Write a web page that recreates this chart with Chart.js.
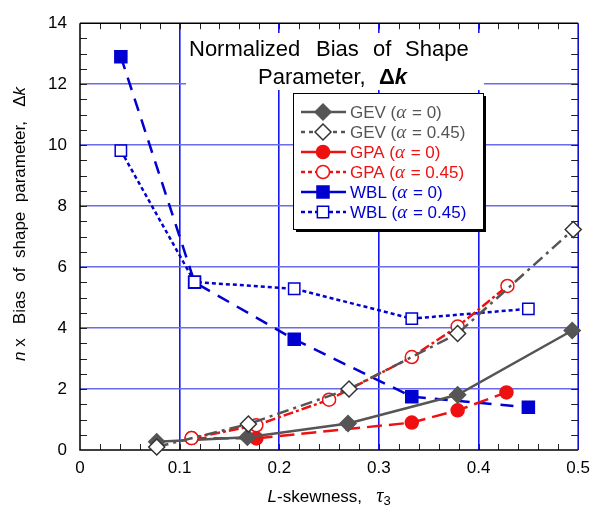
<!DOCTYPE html>
<html>
<head>
<meta charset="utf-8">
<script src="https://cdn.jsdelivr.net/npm/chart.js@4.4.0/dist/chart.umd.min.js"></script>
<style>
  html, body { margin: 0; padding: 0; background: #fff; }
</style>
</head>
<body>
<canvas id="chart" width="598" height="506"></canvas>
<script>
// Data (x = L-skewness, y = n x bias of k)
const gevA0X = [0.077, 0.168, 0.269, 0.379, 0.494];
const gevA0Y = [0.27, 0.42, 0.87, 1.81, 3.92];
const gevA45X = [0.077, 0.169, 0.270, 0.379, 0.495];
const gevA45Y = [0.10, 0.85, 2.00, 3.82, 7.23];
const gpaA0X = [0.112, 0.177, 0.333, 0.379, 0.428];
const gpaA0Y = [0.39, 0.38, 0.90, 1.30, 1.89];
const gpaA45X = [0.112, 0.177, 0.250, 0.333, 0.379, 0.429];
const gpaA45Y = [0.39, 0.81, 1.65, 3.05, 4.05, 5.38];
const wblA0X = [0.041, 0.115, 0.215, 0.333, 0.450];
const wblA0Y = [12.9, 5.50, 3.63, 1.75, 1.40];
const wblA45X = [0.041, 0.115, 0.215, 0.333, 0.450];
const wblA45Y = [9.82, 5.51, 5.29, 4.31, 4.63];

const xTicks = [0, 0.1, 0.2, 0.3, 0.4, 0.5];
const yTicks = [0, 2, 4, 6, 8, 10, 12, 14];

const GRAY = '#555555';
const RED = '#ee1111';
const BLUE = '#0000d0';
const SANS = "'Liberation Sans', Arial, sans-serif";
const SERIF = "'Liberation Serif', 'Times New Roman', serif";

function pts(xs, ys) {
    return xs.map((x, i) => ({ x: x, y: ys[i] }));
}

// Legend entries (drawn by plugin inside the plot)
const legendItems = [
    { name: 'GEV', alpha: '0', color: GRAY, dash: [], style: 'rectRot', r: 8, fill: GRAY },
    { name: 'GEV', alpha: '0.45', color: GRAY, dash: [4, 4], style: 'rectRot', r: 8, fill: '#fff', border: '#333' },
    { name: 'GPA', alpha: '0', color: RED, dash: [], style: 'circle', r: 6.5, fill: RED },
    { name: 'GPA', alpha: '0.45', color: RED, dash: [4, 3], style: 'circle', r: 6.5, fill: '#fff' },
    { name: 'WBL', alpha: '0', color: BLUE, dash: [], style: 'rect', r: 8.5, fill: BLUE },
    { name: 'WBL', alpha: '0.45', color: BLUE, dash: [4, 3], style: 'rect', r: 8, fill: '#fff' },
];

function drawRich(ctx, parts, x, y) {
    let cx = x;
    parts.forEach(p => {
        ctx.font = p.font;
        ctx.fillStyle = p.color || '#000';
        ctx.fillText(p.text, cx, y + (p.dy || 0));
        cx += ctx.measureText(p.text).width + (p.gap || 0);
    });
    return cx - x;
}

function richWidth(ctx, parts) {
    let w = 0;
    parts.forEach(p => {
        ctx.font = p.font;
        w += ctx.measureText(p.text).width + (p.gap || 0);
    });
    return w;
}

const decorPlugin = {
    id: 'decor',
    beforeDatasetsDraw(chart) {
        const ctx = chart.ctx;
        const a = chart.chartArea;
        const xs = chart.scales.x;
        const ys = chart.scales.y;
        ctx.save();

        // minor ticks, inward on all four sides
        ctx.strokeStyle = '#222';
        ctx.lineWidth = 1;
        ctx.beginPath();
        for (let v = 0.02; v < 0.5; v += 0.02) {
            const px = Math.round(xs.getPixelForValue(v)) + 0.5;
            ctx.moveTo(px, a.bottom); ctx.lineTo(px, a.bottom - 6);
            ctx.moveTo(px, a.top); ctx.lineTo(px, a.top + 6);
        }
        for (let v = 0.5; v < 14; v += 0.5) {
            const py = Math.round(ys.getPixelForValue(v)) + 0.5;
            ctx.moveTo(a.left, py); ctx.lineTo(a.left + 7, py);
            ctx.moveTo(a.right, py); ctx.lineTo(a.right - 7, py);
        }
        ctx.stroke();

        // frame
        ctx.lineWidth = 1.5;
        ctx.strokeStyle = '#000';
        ctx.beginPath();
        ctx.moveTo(a.left, a.top); ctx.lineTo(a.left, a.bottom); ctx.lineTo(a.right, a.bottom);
        ctx.moveTo(a.left, a.top); ctx.lineTo(a.right, a.top);
        ctx.stroke();
        ctx.strokeStyle = BLUE;
        ctx.beginPath();
        ctx.moveTo(a.right, a.top); ctx.lineTo(a.right, a.bottom);
        ctx.stroke();

        // title block with white background
        ctx.fillStyle = '#fff';
        ctx.fillRect(186, 33, 298, 57);
        ctx.textBaseline = 'alphabetic';
        const tf = '22px ' + SANS;
        drawRich(ctx, [{ text: 'Normalized', font: tf }], 189, 56);
        drawRich(ctx, [{ text: 'Bias', font: tf }], 316, 56);
        drawRich(ctx, [{ text: 'of', font: tf }], 373, 56);
        drawRich(ctx, [{ text: 'Shape', font: tf }], 405, 56);
        drawRich(ctx, [{ text: 'Parameter,', font: tf }], 258, 84);
        drawRich(ctx, [
            { text: '\u0394', font: 'bold 22px ' + SANS },
            { text: 'k', font: 'italic bold 22px ' + SANS },
        ], 379, 84);

        // legend box with shadow
        const lx = 293, ly = 93, lw = 190, lh = 136;
        ctx.fillStyle = '#000';
        ctx.fillRect(lx + 3, ly + 3, lw, lh);
        ctx.fillStyle = '#fff';
        ctx.fillRect(lx, ly, lw, lh);
        ctx.lineWidth = 1;
        ctx.strokeStyle = '#000';
        ctx.strokeRect(lx + 0.5, ly + 0.5, lw, lh);

        legendItems.forEach((it, i) => {
            const y = 112 + i * 20;
            ctx.strokeStyle = it.color;
            ctx.lineWidth = 2.5;
            ctx.setLineDash(it.dash);
            ctx.beginPath();
            ctx.moveTo(301, y); ctx.lineTo(346, y);
            ctx.stroke();
            ctx.setLineDash([]);
            ctx.fillStyle = it.fill;
            ctx.strokeStyle = it.border || it.color;
            ctx.lineWidth = 1.5;
            Chart.helpers.drawPoint(ctx, { pointStyle: it.style, radius: it.r, rotation: 0, borderWidth: 1.5 }, 323, y);
            drawRich(ctx, [
                { text: it.name + ' (', font: '17px ' + SANS, color: it.color },
                { text: '\u03b1', font: 'italic 19px ' + SERIF, color: it.color, gap: 1 },
                { text: ' = ' + it.alpha + ')', font: '17px ' + SANS, color: it.color },
            ], 350, y + 6);
        });
        ctx.restore();
    },
    afterDraw(chart) {
        const ctx = chart.ctx;
        const a = chart.chartArea;
        ctx.save();
        ctx.textBaseline = 'alphabetic';
        // x axis title
        const xParts = [
            { text: 'L', font: 'italic 17px ' + SANS },
            { text: '-skewness,   ', font: '17px ' + SANS },
            { text: '\u03c4', font: 'italic 20px ' + SERIF },
            { text: '3', font: '13px ' + SANS, dy: 3 },
        ];
        const xw = richWidth(ctx, xParts);
        drawRich(ctx, xParts, (a.left + a.right) / 2 - xw / 2, 502);

        // y axis title, rotated
        const yParts = [
            { text: 'n', font: 'italic 17px ' + SANS },
            { text: ' x   Bias  of  shape  parameter,   \u0394', font: '17px ' + SANS },
            { text: 'k', font: 'italic 17px ' + SANS },
        ];
        const yw = richWidth(ctx, yParts);
        ctx.translate(25, 224);
        ctx.rotate(-Math.PI / 2);
        drawRich(ctx, yParts, -yw / 2, 0);
        ctx.restore();
    }
};

function series(xs, ys, color, dash, style, r, fill, order, border) {
    return {
        data: pts(xs, ys),
        showLine: true,
        borderColor: color,
        borderWidth: 2.5,
        borderDash: dash,
        pointStyle: style,
        pointRadius: r,
        pointHoverRadius: r,
        pointBackgroundColor: fill,
        pointBorderColor: border || color,
        pointBorderWidth: 1.5,
        order: order,
        clip: 10,
    };
}

new Chart(document.getElementById('chart'), {
    type: 'scatter',
    data: {
        datasets: [
            series(gevA0X, gevA0Y, GRAY, [], 'rectRot', 8, GRAY, 3),
            series(gevA45X, gevA45Y, GRAY, [12, 5, 3, 5], 'rectRot', 8, '#fff', 0, '#333'),
            series(gpaA0X, gpaA0Y, RED, [15, 7], 'circle', 6.5, RED, 4),
            series(gpaA45X, gpaA45Y, RED, [10, 3, 3, 3], 'circle', 6.5, '#fff', 1),
            series(wblA0X, wblA0Y, BLUE, [13, 9], 'rect', 8.5, BLUE, 5),
            series(wblA45X, wblA45Y, BLUE, [4, 3], 'rect', 8, '#fff', 2),
        ]
    },
    options: {
        responsive: false,
        animation: false,
        layout: { padding: { top: 18, right: 12, left: 0, bottom: 0 } },
        plugins: {
            legend: { display: false },
            tooltip: { enabled: false },
            title: { display: false },
        },
        scales: {
            x: {
                type: 'linear',
                min: 0,
                max: 0.5,
                afterBuildTicks: s => { s.ticks = xTicks.map(v => ({ value: v })); },
                afterFit: s => { s.height = 56; },
                ticks: {
                    color: '#000',
                    font: { family: SANS, size: 17 },
                    padding: 8,
                    maxRotation: 0,
                    callback: v => (v === 0 ? '0' : v.toFixed(1)),
                },
                grid: {
                    drawTicks: false,
                    lineWidth: 1.6,
                    color: c => (c.tick && (c.tick.value === 0 || c.tick.value === 0.5) ? 'rgba(0,0,0,0)' : '#1515f0'),
                },
                border: { display: false },
            },
            y: {
                type: 'linear',
                min: 0,
                max: 14,
                afterBuildTicks: s => { s.ticks = yTicks.map(v => ({ value: v })); },
                afterFit: s => { s.width = 80; },
                ticks: {
                    color: '#000',
                    font: { family: SANS, size: 17 },
                    padding: 13,
                    callback: v => String(v),
                },
                grid: {
                    drawTicks: false,
                    lineWidth: 1.6,
                    color: c => (c.tick && (c.tick.value === 0 || c.tick.value === 14) ? 'rgba(0,0,0,0)' : '#6a6aec'),
                },
                border: { display: false },
            }
        }
    },
    plugins: [decorPlugin]
});
</script>
</body>
</html>
